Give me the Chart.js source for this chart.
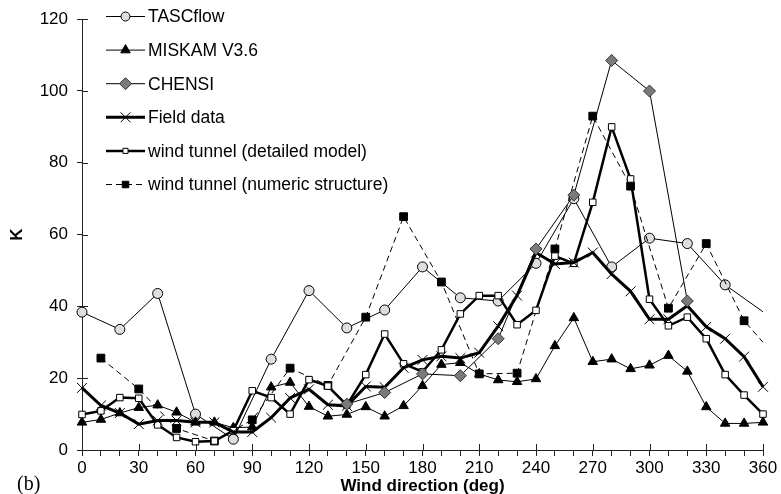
<!DOCTYPE html>
<html>
<head>
<meta charset="utf-8">
<script src="https://cdn.jsdelivr.net/npm/chart.js@4"></script>
<style>
  html, body { margin: 0; padding: 0; background: #fff; }
  #wrap { width: 781px; height: 494px; position: relative; }
</style>
</head>
<body>
<div id="wrap"><canvas id="Chart"></canvas></div>
<script>
// wind direction (deg)
const directions = [0, 10, 20, 30, 40, 50, 60, 70, 80, 90, 100, 110, 120, 130, 140, 150, 160, 170, 180,
    190, 200, 210, 220, 230, 240, 250, 260, 270, 280, 290, 300, 310, 320, 330, 340, 350, 360];
const tascDirections = [0, 20, 40, 60, 80, 100, 120, 140, 160, 180, 200, 220, 240, 260, 280, 300, 320, 340, 360];
const chensiDirections = [140, 160, 180, 200, 220, 240, 260, 280, 300, 320];
const numericDirections = [10, 30, 50, 70, 90, 110, 130, 150, 170, 190, 210, 230, 250, 270, 290, 310, 330, 350, 360];

// K values
const tascflow = [38.4, 33.6, 43.6, 10, 3, 25.3, 44.4, 34, 39, 51, 42.4, 41.5, 52, 70, 51, 59, 57.5, 46, 38.5];
const miskam = [7.7, 8.5, 10.3, 11.8, 12.5, 10.5, 7.7, 7.7, 6.2, 6.4, 17.5, 18.8, 12.1, 9.4, 9.9, 12, 9.4, 12.3, 17.9,
    23.8, 24.3, 21.2, 19.5, 19, 19.8, 29, 36.8, 24.6, 25.3, 22.6, 23.6, 26.3, 21.9, 12, 7.4, 7.4, 7.7];
const chensi = [12.8, 16, 21.2, 20.7, 31, 56, 71, 108.5, 100, 41.5];
const fieldData = [17.3, 12.4, 10.3, 7.2, 8.2, 8.2, 7.7, 7.7, 5, 5, 9, 14.5, 16.9, 12.6, 12.3, 17.7, 17.5, 22.9, 25.1,
    26.1, 25.6, 27.1, 34.5, 43, 55, 51.8, 52.2, 55, 49, 44.2, 36.4, 36.4, 40.2, 34.3, 31, 26, 17.6];
const tunnelDetailed = [9.9, 10.9, 14.6, 14.4, 7, 3.5, 2.3, 2.5, 5.4, 16.5, 14.6, 10, 19.6, 17.8, 12.5, 21, 32.3, 24, 21.8,
    27.9, 37.9, 43, 43, 34.9, 38.9, 54, 52, 69, 90, 75.5, 42, 34.6, 37, 31, 21, 15.3, 10];
const tunnelNumeric = [25.6, 17, 6, 2.5, 8.4, 22.8, 18, 37, 65, 46.8, 21.2, 21.4, 56, 93, 73.5, 39.5, 57.5, 36, 30];

const xTicks = [0, 30, 60, 90, 120, 150, 180, 210, 240, 270, 300, 330, 360];
const yTicks = [0, 20, 40, 60, 80, 100, 120];

function pairs(xs, ys) {
    return xs.map(function (x, i) { return {x: x, y: ys[i]}; });
}
// the last point of these series is only where the line leaves the frame, no marker
function noMarkerAtEnd(r) {
    return function (ctx) { return ctx.raw && ctx.raw.x === 360 ? 0 : r; };
}

const FONT = "'Liberation Sans', Arial, sans-serif";
const AXIS = '#222';

let datasets = [
    {
        label: 'TASCflow', data: pairs(tascDirections, tascflow),
        borderColor: '#000', borderWidth: 1,
        pointStyle: 'circle', pointRadius: noMarkerAtEnd(5), pointBackgroundColor: '#dedede',
        pointBorderColor: '#000', pointBorderWidth: 1, order: 5
    },
    {
        label: 'MISKAM V3.6', data: pairs(directions, miskam),
        borderColor: '#000', borderWidth: 1,
        pointStyle: 'triangle', pointRadius: 5.5, pointBackgroundColor: '#000',
        pointBorderColor: '#000', pointBorderWidth: 1, order: 4
    },
    {
        label: 'CHENSI', data: pairs(chensiDirections, chensi),
        borderColor: '#000', borderWidth: 1,
        pointStyle: 'rectRot', pointRadius: 6, pointBackgroundColor: '#7a7a7a',
        pointBorderColor: '#333', pointBorderWidth: 1, order: 0
    },
    {
        label: 'Field data', data: pairs(directions, fieldData),
        borderColor: '#000', borderWidth: 3,
        pointStyle: 'crossRot', pointRadius: 7, pointBackgroundColor: '#000',
        pointBorderColor: '#000', pointBorderWidth: 1, order: 1
    },
    {
        label: 'wind tunnel (detailed model)', data: pairs(directions, tunnelDetailed),
        borderColor: '#000', borderWidth: 2.5,
        pointStyle: 'rect', pointRadius: 4.6, pointBackgroundColor: '#fff',
        pointBorderColor: '#000', pointBorderWidth: 1, order: 2
    },
    {
        label: 'wind tunnel (numeric structure)', data: pairs(numericDirections, tunnelNumeric),
        borderColor: '#000', borderWidth: 1, borderDash: [6, 4],
        pointStyle: 'rect', pointRadius: noMarkerAtEnd(5.5), pointBackgroundColor: '#000',
        pointBorderColor: '#000', pointBorderWidth: 1, order: 3
    }
];
datasets.forEach(function (d) { d.fill = false; d.tension = 0; d.clip = false; });

// legend drawn by hand: line sample with marker in the middle, like the original
const legendPlugin = {
    id: 'sampleLegend',
    afterDraw: function (chart) {
        const ctx = chart.ctx;
        const x0 = 106, x1 = 145, xm = 125.5, xt = 148;
        chart.data.datasets.forEach(function (ds, i) {
            const y = 16.5 + i * 33.6;
            ctx.save();
            ctx.strokeStyle = ds.borderColor;
            ctx.lineWidth = ds.borderWidth;
            ctx.setLineDash(ds.borderDash || []);
            ctx.beginPath();
            ctx.moveTo(x0, y);
            ctx.lineTo(x1, y);
            ctx.stroke();
            ctx.setLineDash([]);
            let r = typeof ds.pointRadius === 'function' ? ds.pointRadius({raw: {x: 0}}) : ds.pointRadius;
            if (ds.label === 'wind tunnel (detailed model)') r = 3.6;
            if (ds.label === 'wind tunnel (numeric structure)') r = 4.6;
            if (ds.label === 'TASCflow') r = 4.5;
            ctx.fillStyle = ds.pointBackgroundColor;
            ctx.strokeStyle = ds.pointBorderColor;
            ctx.lineWidth = ds.pointBorderWidth;
            Chart.helpers.drawPoint(ctx, {pointStyle: ds.pointStyle, radius: r, rotation: 0, borderWidth: 1}, xm, y);
            ctx.fillStyle = '#000';
            ctx.font = '17.5px ' + FONT;
            ctx.textBaseline = 'middle';
            ctx.textAlign = 'left';
            ctx.fillText(ds.label, xt, y + 1);
            ctx.restore();
        });
        // panel tag
        ctx.save();
        ctx.fillStyle = '#000';
        ctx.font = "20px 'Liberation Serif', 'Times New Roman', serif";
        ctx.textBaseline = 'middle';
        ctx.fillText('(b)', 17, 485);
        ctx.restore();
    }
};

// major ticks cross the axis lines
const crossTicks = {
    id: 'crossTicks',
    afterDatasetsDraw: function (chart) {
        const ctx = chart.ctx, xs = chart.scales.x, ys = chart.scales.y;
        ctx.save();
        ctx.strokeStyle = AXIS;
        ctx.lineWidth = 1;
        ctx.beginPath();
        yTicks.forEach(function (v) {
            const y = Math.round(ys.getPixelForValue(v)) + 0.5;
            ctx.moveTo(xs.left, y);
            ctx.lineTo(xs.left + 6, y);
        });
        xTicks.forEach(function (v) {
            const x = Math.round(xs.getPixelForValue(v)) + 0.5;
            ctx.moveTo(x, ys.bottom);
            ctx.lineTo(x, ys.bottom - 6);
        });
        ctx.stroke();
        ctx.restore();
    }
};

let chart = new Chart(document.getElementById('Chart'), {
    type: 'line',
    data: {datasets: datasets},
    options: {
        responsive: true,
        maintainAspectRatio: false,
        animation: false,
        layout: {padding: {top: 18, right: 18, left: 0, bottom: 0}},
        plugins: {legend: {display: false}, tooltip: {enabled: false}},
        scales: {
            x: {
                type: 'linear', min: 0, max: 360,
                afterFit: function (scale) { scale.height = 44; },
                border: {color: AXIS, width: 1},
                grid: {drawOnChartArea: false, drawTicks: true, tickLength: 6, color: AXIS},
                ticks: {
                    stepSize: 10, autoSkip: false, maxRotation: 0, padding: 2,
                    color: '#000', font: {family: FONT, size: 17},
                    callback: function (v) { return xTicks.indexOf(v) >= 0 ? v : ''; }
                },
                title: {
                    display: true, text: 'Wind direction (deg)', color: '#000',
                    font: {family: FONT, size: 17, weight: 'bold', lineHeight: 1},
                    padding: {top: 0, bottom: -1}
                }
            },
            y: {
                min: 0, max: 120,
                afterFit: function (scale) { scale.width = 82; },
                border: {color: AXIS, width: 1},
                grid: {drawOnChartArea: false, drawTicks: true, tickLength: 5, color: AXIS},
                ticks: {
                    stepSize: 20, padding: 9,
                    color: '#000', font: {family: FONT, size: 17}
                },
                title: {
                    display: true, text: 'K', color: '#000',
                    font: {family: FONT, size: 17, weight: 'bold', lineHeight: 1},
                    padding: {top: 9, bottom: 0}
                }
            }
        }
    },
    plugins: [legendPlugin, crossTicks]
});
</script>
</body>
</html>
